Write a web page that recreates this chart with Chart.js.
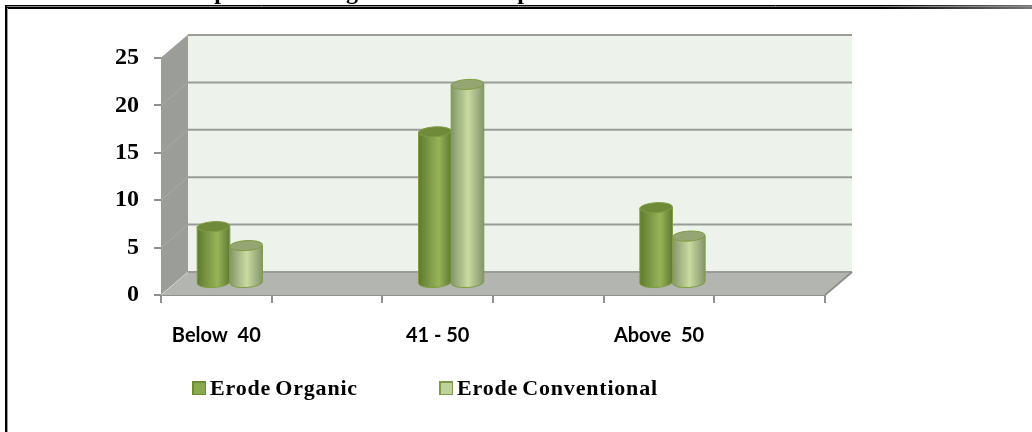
<!DOCTYPE html>
<html>
<head>
<meta charset="utf-8">
<style>
html,body{margin:0;padding:0;background:#fff;overflow:hidden}
canvas{display:block}
</style>
<script src="https://cdn.jsdelivr.net/npm/chart.js@4/dist/chart.umd.min.js"></script>
</head>
<body>
<canvas id="c" width="1032" height="432"></canvas>
<script>
// Age groups: every second category slot is left empty, giving the gaps on the axis.
const categories = ['Below  40', '', '41 - 50', '', 'Above  50', ''];
const organicValues = [6, null, 16, null, 8, null];
const conventionalValues = [4, null, 21, null, 5, null];
const seriesNames = ['Erode Organic', 'Erode Conventional'];
const yTicks = [0, 5, 10, 15, 20, 25];
const headingFragments = [['p', 221], ['g', 352], ['p', 524]];

// Depth of the pseudo-3D box behind the plot.
const DEPTH_X = 27, DEPTH_Y = 23;
const SERIF = '"Liberation Serif", serif';

const looks = [
  {edge:'#5f7a30', mid:'#97b459', cap:'#6f8b3a', rim:'#7f9d45', swatch:'#8aa84e', swatchEdge:'#6d8a38', peak:0.62},
  {edge:'#84966a', mid:'#c8dba0', cap:'#94a672', rim:'#7f9d45', swatch:'#bdd19a', swatchEdge:'#7f9a4b', peak:0.52}
];

function poly(ctx, pts, fill) {
  ctx.beginPath();
  pts.forEach((p, i) => i ? ctx.lineTo(p[0], p[1]) : ctx.moveTo(p[0], p[1]));
  ctx.closePath();
  ctx.fillStyle = fill;
  ctx.fill();
}

function line(ctx, x1, y1, x2, y2, color, width) {
  ctx.beginPath();
  ctx.moveTo(x1, y1);
  ctx.lineTo(x2, y2);
  ctx.strokeStyle = color;
  ctx.lineWidth = width;
  ctx.stroke();
}

const boxAndFrame = {
  id: 'boxAndFrame',
  beforeDatasetsDraw(chart) {
    const {ctx, chartArea: a, scales: {y}} = chart;
    ctx.save();
    // back wall, side wall, floor
    poly(ctx, [[a.left + DEPTH_X, a.top - DEPTH_Y], [a.right + DEPTH_X, a.top - DEPTH_Y],
               [a.right + DEPTH_X, a.bottom - DEPTH_Y], [a.left + DEPTH_X, a.bottom - DEPTH_Y]], '#edf3ea');
    poly(ctx, [[a.left, a.top], [a.left + DEPTH_X, a.top - DEPTH_Y],
               [a.left + DEPTH_X, a.bottom - DEPTH_Y], [a.left, a.bottom]], '#9b9d98');
    poly(ctx, [[a.left, a.bottom], [a.left + DEPTH_X, a.bottom - DEPTH_Y],
               [a.right + DEPTH_X, a.bottom - DEPTH_Y], [a.right, a.bottom]], '#b3b5b1');
    yTicks.forEach(v => {
      const py = y.getPixelForValue(v);
      line(ctx, a.left + DEPTH_X, py - DEPTH_Y, a.right + DEPTH_X, py - DEPTH_Y, '#9a9c99', 2);
      line(ctx, a.left, py, a.left + DEPTH_X, py - DEPTH_Y, '#a9aba7', 1);
    });
    line(ctx, a.left, a.bottom, a.left + DEPTH_X, a.bottom - DEPTH_Y, '#d2d3d0', 1);
    line(ctx, a.right, a.bottom, a.right + DEPTH_X, a.bottom - DEPTH_Y, '#8f918d', 2);
    ctx.restore();
  },
  afterDatasetsDraw(chart) {
    const {ctx} = chart;
    ctx.save();
    chart.data.datasets.forEach((ds, i) => {
      const look = looks[i];
      chart.getDatasetMeta(i).data.forEach((bar, k) => {
        if (ds.data[k] === null) return;
        const p = bar.getProps(['x', 'y', 'base', 'width'], true);
        const left = p.x - p.width / 2 + DEPTH_X / 2;
        const right = left + p.width;
        const cx = (left + right) / 2;
        const rx = p.width / 2, ry = 5;
        const top = p.y - DEPTH_Y / 2, bottom = p.base - DEPTH_Y / 2;
        const grad = ctx.createLinearGradient(left, 0, right, 0);
        grad.addColorStop(0, look.edge);
        grad.addColorStop(look.peak, look.mid);
        grad.addColorStop(1, look.edge);
        // cylinder body, closed by the lower half of an ellipse
        ctx.beginPath();
        ctx.moveTo(left, top);
        ctx.lineTo(left, bottom);
        ctx.ellipse(cx, bottom, rx, ry, -0.06, Math.PI, 0, true);
        ctx.lineTo(right, top);
        ctx.closePath();
        ctx.fillStyle = grad;
        ctx.fill();
        ctx.strokeStyle = look.rim;
        ctx.lineWidth = 1;
        ctx.stroke();
        // cap
        ctx.beginPath();
        ctx.ellipse(cx, top, rx, ry, -0.06, 0, Math.PI * 2);
        ctx.fillStyle = look.cap;
        ctx.fill();
        ctx.strokeStyle = look.rim;
        ctx.stroke();
      });
    });
    ctx.restore();
  },
  afterDraw(chart) {
    const {ctx} = chart;
    ctx.save();
    // descenders of the heading line, cut off by the top of the page
    ctx.fillStyle = '#000';
    ctx.font = 'bold 24px ' + SERIF;
    ctx.textAlign = 'center';
    ctx.textBaseline = 'alphabetic';
    headingFragments.forEach(([ch, x]) => ctx.fillText(ch, x, -1));
    // double frame rule
    ctx.fillStyle = '#fff';
    ctx.fillRect(0, 5, 1032, 4);
    const far = ctx.createLinearGradient(880, 0, 1032, 0);
    far.addColorStop(0, '#000');
    far.addColorStop(1, '#777');
    line(ctx, 5, 5.5, 1032, 5.5, far, 1);
    line(ctx, 5, 6.5, 1032, 6.5, '#8a8a8a', 1);
    line(ctx, 5, 8, 1032, 8, far, 2);
    line(ctx, 6, 5, 6, 432, '#000', 2);
    line(ctx, 7.5, 8, 7.5, 432, '#9a9a9a', 1);
    // legend
    const slots = [[192, 210], [439, 457]];
    ctx.font = 'bold 22px ' + SERIF;
    ctx.textAlign = 'left';
    ctx.textBaseline = 'middle';
    if ('letterSpacing' in ctx) ctx.letterSpacing = '0.8px';
    if ('wordSpacing' in ctx) ctx.wordSpacing = '-2px';
    seriesNames.forEach((name, i) => {
      const [bx, tx] = slots[i];
      ctx.fillStyle = looks[i].swatchEdge;
      ctx.fillRect(bx, 381, 14, 14);
      ctx.fillStyle = looks[i].swatch;
      ctx.fillRect(bx + 2, 383, 11, 11);
      ctx.fillStyle = '#000';
      ctx.fillText(name, tx, 389);
    });
    ctx.restore();
  }
};

new Chart(document.getElementById('c'), {
  type: 'bar',
  data: {
    labels: categories,
    datasets: [
      {label: seriesNames[0], data: organicValues, backgroundColor: 'transparent'},
      {label: seriesNames[1], data: conventionalValues, backgroundColor: 'transparent'}
    ]
  },
  options: {
    responsive: false,
    animation: false,
    layout: {padding: {left: 0, right: 207, top: 58, bottom: 37}},
    datasets: {bar: {categoryPercentage: 0.59, barPercentage: 1}},
    plugins: {legend: {display: false}, title: {display: false}, tooltip: {enabled: false}},
    scales: {
      x: {
        afterFit(s) { s.height = 100; },
        border: {color: '#8f918d', width: 2},
        grid: {offset: true, drawOnChartArea: false, color: '#8f918d', lineWidth: 2, tickLength: 8},
        ticks: {autoSkip: false, maxRotation: 0, padding: 21, color: '#000',
                font: {family: 'Lato', weight: 'bold', size: 20}}
      },
      y: {
        min: 0, max: 25,
        afterFit(s) { s.width = 161; },
        afterBuildTicks(s) { s.ticks = yTicks.map(v => ({value: v})); },
        border: {display: false},
        grid: {drawOnChartArea: false, color: '#8f918d', lineWidth: 2, tickLength: 7},
        ticks: {padding: 15, color: '#000', font: {family: 'Liberation Serif', weight: 'bold', size: 24}}
      }
    }
  },
  plugins: [boxAndFrame]
});
</script>
</body>
</html>
